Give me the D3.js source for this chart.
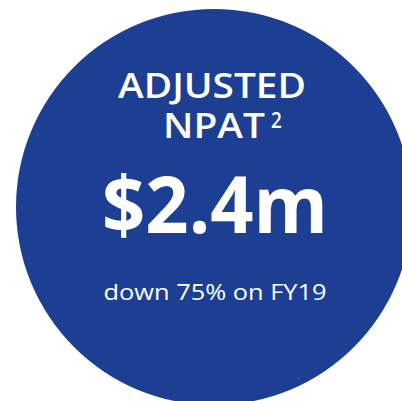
<!DOCTYPE html>
<html>
<head>
<meta charset="utf-8">
<script src="https://cdn.jsdelivr.net/npm/d3@7"></script>
<style>
  html, body { margin: 0; padding: 0; background: #fff; }
  svg { display: block; }
</style>
</head>
<body>
<svg width="402" height="401"></svg>
<script>
// headline metric
var titleLines = ["ADJUSTED", "NPAT"];
var footnote = ["2"];
var metricValue = [2.4];
var metricUnit = ["m"];
var changePct = [75];
var changeWord = ["down"];
var comparePeriod = ["FY19"];

var blue = "#1c3f94";
var font = "'Open Sans', sans-serif";

var svg = d3.select("svg");

// circle badge
svg.append("circle")
    .attr("cx", 214)
    .attr("cy", 207)
    .attr("r", 198)
    .style("fill", blue);

var g = svg.append("g").attr("fill", "#fff");

// text squeezed horizontally so it matches a condensed face
// (font size sets height, sx sets width)
function label(str, cx, baseline, size, weight, targetW, sx) {
    var wrap = g.append("g");
    var t = wrap.append("text")
        .attr("text-anchor", "middle")
        .attr("font-family", font)
        .attr("font-weight", weight)
        .attr("font-size", size)
        .text(str);
    if (targetW) sx = targetW / t.node().getComputedTextLength();
    wrap.attr("transform", "translate(" + cx + "," + baseline + ") scale(" + sx + ",1)");
    return { node: t, sx: sx, w: t.node().getComputedTextLength() * sx };
}

var l1 = label(titleLines[0], 212, 98, 35, 600, 188);
var l2 = label(titleLines[1], 214, 138, 35, 600, null, l1.sx);

g.append("text")
    .attr("x", 214 + l2.w / 2 + 6)
    .attr("y", 128)
    .attr("font-family", font)
    .attr("font-weight", 600)
    .attr("font-size", 21)
    .attr("transform", "translate(" + (214 + l2.w / 2 + 6) + ",0) scale(0.9,1) translate(" + -(214 + l2.w / 2 + 6) + ",0)")
    .text(footnote[0]);

var fmt = d3.format("$.1f");
label(fmt(metricValue[0]) + metricUnit[0], 215, 233, 78, 700, 226);

label(changeWord[0] + " " + changePct[0] + "% on " + comparePeriod[0], 215, 300, 22.5, 400, 223);
</script>
</body>
</html>
